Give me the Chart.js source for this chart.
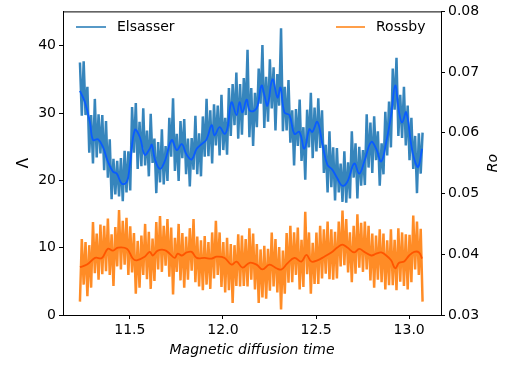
<!DOCTYPE html>
<html>
<head>
<meta charset="utf-8">
<script src="https://cdn.jsdelivr.net/npm/chart.js@4/dist/chart.umd.min.js"></script>
<style>
  body { margin: 0; background: #fff; }
  #wrap { width: 507px; height: 365px; }
</style>
</head>
<body>
<div id="wrap"><canvas id="chart" width="507" height="365"></canvas></div>
<script>
// sampling grid of the raw series (magnetic diffusion time)
const tStart = 11.232
const tStep = 0.01

// raw Elsasser number (left axis)
const elsasserRaw = [37.5,29.6,37.7,29.7,33.9,24.1,29.7,22.5,32.1,23.4,
  29.8,24.0,29.7,21.5,28.8,20.4,26.1,17.2,23.2,17.9,
  22.9,17.6,23.3,16.9,24.4,18.2,24.3,18.5,30.9,24.1,
  31.5,21.7,28.7,22.1,30.7,22.2,27.4,20.6,29.9,22.6,
  26.2,18.1,25.7,19.7,27.6,19.4,25.1,19.9,29.3,23.5,
  32.2,21.4,26.9,19.9,28.8,23.3,29.1,20.9,26.2,19.1,
  26.3,21.6,29.6,20.9,27.0,20.6,29.5,23.5,32.1,23.6,
  30.4,22.5,31.3,25.2,31.1,23.7,32.7,24.5,29.3,23.8,
  33.7,26.6,34.3,28.2,36.0,26.2,34.3,26.8,35.2,29.7,
  39.4,26.4,33.7,25.1,33.0,27.9,36.6,31.4,40.1,27.8,
  35.4,28.7,38.0,30.7,36.8,27.4,35.8,31.1,42.6,27.3,
  33.9,27.4,34.9,25.6,30.4,22.2,30.6,25.1,32.0,22.9,
  27.9,20.1,30.5,24.9,33.0,23.3,30.8,24.3,32.2,24.8,
  30.4,21.1,25.3,18.2,27.3,19.0,24.9,17.0,24.8,18.2,
  22.5,16.8,24.3,16.7,22.7,17.3,27.3,20.4,25.5,17.3,
  25.0,19.2,24.5,19.3,29.8,21.9,28.6,21.1,29.5,23.0,
  27.3,19.2,25.5,20.9,30.2,23.7,31.7,24.9,36.6,30.5,
  38.2,26.6,32.7,26.3,33.9,25.2,31.1,23.0,29.3,21.7,
  26.6,18.1,27.0,21.0,27.1]

// raw Rossby number (right axis)
const rossbyRaw = [0.0322,0.0425,0.0350,0.0420,0.0331,0.0415,0.0345,0.0453,0.0369,0.0434,
  0.0358,0.0449,0.0367,0.0447,0.0372,0.0459,0.0366,0.0433,0.0348,0.0445,
  0.0380,0.0473,0.0375,0.0455,0.0383,0.0460,0.0366,0.0446,0.0370,0.0435,
  0.0335,0.0422,0.0345,0.0431,0.0366,0.0450,0.0359,0.0437,0.0343,0.0426,
  0.0356,0.0453,0.0375,0.0463,0.0371,0.0447,0.0381,0.0458,0.0363,0.0444,
  0.0334,0.0427,0.0371,0.0450,0.0357,0.0435,0.0345,0.0429,0.0358,0.0443,
  0.0373,0.0458,0.0354,0.0429,0.0347,0.0423,0.0341,0.0430,0.0350,0.0420,
  0.0343,0.0436,0.0360,0.0455,0.0366,0.0436,0.0346,0.0420,0.0337,0.0427,
  0.0341,0.0417,0.0320,0.0415,0.0348,0.0433,0.0347,0.0431,0.0348,0.0425,
  0.0347,0.0443,0.0358,0.0434,0.0342,0.0417,0.0320,0.0408,0.0329,0.0414,
  0.0327,0.0409,0.0340,0.0436,0.0347,0.0425,0.0337,0.0412,0.0309,0.0406,
  0.0335,0.0435,0.0353,0.0447,0.0354,0.0436,0.0366,0.0444,0.0342,0.0424,
  0.0346,0.0470,0.0367,0.0436,0.0335,0.0419,0.0351,0.0436,0.0351,0.0447,
  0.0360,0.0441,0.0368,0.0454,0.0359,0.0441,0.0358,0.0437,0.0360,0.0454,
  0.0380,0.0472,0.0382,0.0458,0.0370,0.0436,0.0354,0.0447,0.0368,0.0466,
  0.0378,0.0452,0.0371,0.0454,0.0375,0.0447,0.0357,0.0434,0.0345,0.0431,
  0.0358,0.0441,0.0354,0.0434,0.0342,0.0423,0.0349,0.0441,0.0349,0.0424,
  0.0341,0.0443,0.0355,0.0436,0.0348,0.0433,0.0342,0.0432,0.0354,0.0464,
  0.0375,0.0454,0.0366,0.0442,0.0322]

// running means
const elsSmoothT = [11.232,11.259,11.286,11.302,11.329,11.355,11.382,11.409,11.430,11.457,
  11.484,11.500,11.527,11.554,11.580,11.607,11.618,11.634,11.661,11.687,
  11.725,11.752,11.779,11.805,11.832,11.859,11.886,11.912,11.939,11.955,
  11.982,12.009,12.025,12.046,12.073,12.089,12.105,12.127,12.143,12.170,
  12.186,12.207,12.223,12.239,12.266,12.293,12.309,12.330,12.357,12.384,
  12.411,12.437,12.464,12.480,12.507,12.534,12.561,12.587,12.614,12.641,
  12.668,12.705,12.732,12.759,12.796,12.823,12.850,12.877,12.903,12.925,
  12.946,12.962,12.984,13.011,13.027,13.048,13.069]
const elsSmooth = [33.3,31.6,28.6,26.0,26.1,25.0,22.8,21.3,21.0,19.5,
  19.8,22.3,27.5,26.4,23.8,24.7,25.3,23.2,21.7,22.8,
  26.0,24.5,25.4,23.8,23.1,24.7,25.4,26.1,28.2,26.7,
  27.9,26.9,27.9,31.6,29.7,31.6,30.1,32.0,30.4,30.4,
  31.1,34.1,32.6,31.1,35.0,32.3,33.8,30.1,29.7,26.9,
  27.2,24.7,27.6,27.2,28.7,25.4,22.3,21.6,20.3,19.2,
  19.8,22.5,21.0,22.8,25.7,24.7,22.8,25.7,29.7,34.1,
  30.1,28.6,30.1,25.3,23.2,22.0,24.7]

const rosSmoothT = [11.232,11.270,11.313,11.350,11.382,11.409,11.436,11.484,11.516,11.537,
  11.580,11.607,11.623,11.650,11.687,11.714,11.741,11.757,11.779,11.805,
  11.832,11.859,11.902,11.939,11.966,12.009,12.046,12.073,12.105,12.143,
  12.180,12.212,12.250,12.287,12.314,12.346,12.384,12.421,12.448,12.475,
  12.507,12.544,12.582,12.614,12.641,12.668,12.705,12.732,12.759,12.796,
  12.823,12.850,12.877,12.903,12.925,12.946,12.973,13.000,13.027,13.053,
  13.069]
const rosSmooth = [0.0379,0.0383,0.0394,0.0394,0.0409,0.0406,0.0411,0.0409,0.0393,0.0390,
  0.0396,0.0404,0.0398,0.0406,0.0407,0.0401,0.0394,0.0401,0.0398,0.0403,
  0.0404,0.0394,0.0394,0.0393,0.0396,0.0394,0.0383,0.0388,0.0378,0.0386,
  0.0383,0.0375,0.0383,0.0377,0.0375,0.0385,0.0394,0.0388,0.0399,0.0388,
  0.0390,0.0396,0.0403,0.0411,0.0416,0.0411,0.0403,0.0409,0.0404,0.0398,
  0.0401,0.0403,0.0398,0.0390,0.0377,0.0386,0.0388,0.0398,0.0404,0.0403,
  0.0393]

const xTicks = [11.5, 12.0, 12.5, 13.0]
const lambdaTicks = [0, 10, 20, 30, 40]
const roTicks = [0.03, 0.04, 0.05, 0.06, 0.07, 0.08]

function pairs(ts, vs) {
    let out = []
    for (let i = 0; i < vs.length; i++) {
        out.push({ x: ts[i], y: vs[i] })
    }
    return out
}

let rawT = []
for (let i = 0; i < elsasserRaw.length; i++) {
    rawT.push(tStart + i * tStep)
}

const font = "'DejaVu Sans', sans-serif"
Chart.defaults.font.family = font
Chart.defaults.font.size = 14
Chart.defaults.color = '#000'

// matplotlib style frame, Ro label and the two separate legends
const framePlugin = {
    id: 'frame',
    afterDraw(chart) {
        const ctx = chart.ctx
        const a = chart.chartArea
        ctx.save()
        ctx.strokeStyle = '#000'
        ctx.lineWidth = 1
        ctx.beginPath()
        ctx.moveTo(a.left, a.top + 0.5)
        ctx.lineTo(a.right, a.top + 0.5)
        ctx.stroke()

        ctx.font = '14px ' + font
        ctx.textBaseline = 'middle'
        ctx.fillStyle = '#000'
        ctx.lineWidth = 1.5

        ctx.strokeStyle = '#1f77b4'
        ctx.beginPath()
        ctx.moveTo(76, 27)
        ctx.lineTo(106, 27)
        ctx.stroke()
        ctx.fillText('Elsasser', 117, 27)

        ctx.strokeStyle = '#ff7f0e'
        ctx.beginPath()
        ctx.moveTo(336, 27)
        ctx.lineTo(365, 27)
        ctx.stroke()
        ctx.fillText('Rossby', 376, 27)

        // right axis title reads bottom to top, like matplotlib
        ctx.translate(493, (a.top + a.bottom) / 2)
        ctx.rotate(-Math.PI / 2)
        ctx.textAlign = 'center'
        ctx.font = 'italic 14px ' + font
        ctx.fillText('Ro', 0, 0)
        ctx.restore()
    }
}

const ctx = document.getElementById('chart').getContext('2d')
new Chart(ctx, {
    type: 'line',
    data: {
        datasets: [{
            label: 'Elsasser mean',
            data: pairs(elsSmoothT, elsSmooth),
            yAxisID: 'y',
            borderColor: '#0a5cff',
            borderWidth: 1.8,
            tension: 0.4
        }, {
            label: 'Rossby mean',
            data: pairs(rosSmoothT, rosSmooth),
            yAxisID: 'y2',
            borderColor: '#ff5500',
            borderWidth: 1.8,
            tension: 0.4
        }, {
            label: 'Elsasser',
            data: pairs(rawT, elsasserRaw),
            yAxisID: 'y',
            borderColor: 'rgb(54,133,188)',
            borderWidth: 2.5,
            borderJoinStyle: 'bevel'
        }, {
            label: 'Rossby',
            data: pairs(rawT, rossbyRaw),
            yAxisID: 'y2',
            borderColor: 'rgb(255,140,38)',
            borderWidth: 2.5,
            borderJoinStyle: 'bevel'
        }]
    },
    options: {
        responsive: false,
        animation: false,
        events: [],
        elements: { point: { radius: 0 } },
        layout: { padding: { top: 8, left: 0, right: 0, bottom: 0 } },
        plugins: { legend: { display: false }, tooltip: { enabled: false } },
        scales: {
            x: {
                type: 'linear',
                min: 11.141,
                max: 13.171,
                afterFit: function (s) { s.height = 50 },
                afterBuildTicks: function (s) { s.ticks = xTicks.map(v => ({ value: v })) },
                ticks: { callback: v => v.toFixed(1), padding: 3, maxRotation: 0, autoSkip: false },
                grid: { drawOnChartArea: false, tickLength: 4, color: '#000' },
                border: { color: '#000' },
                title: { display: true, text: 'Magnetic diffusion time', font: { size: 14, style: 'italic' }, padding: { top: 4, bottom: 6 } }
            },
            y: {
                position: 'left',
                min: 0,
                max: 45.1,
                afterFit: function (s) { s.width = 63 },
                afterBuildTicks: function (s) { s.ticks = lambdaTicks.map(v => ({ value: v })) },
                ticks: { padding: 3, autoSkip: false },
                grid: { drawOnChartArea: false, tickLength: 4, color: '#000' },
                border: { color: '#000' },
                title: { display: true, text: 'Λ', font: { size: 15 }, padding: { top: 15, bottom: 0 } }
            },
            y2: {
                position: 'right',
                min: 0.03,
                max: 0.08,
                afterFit: function (s) { s.width = 66 },
                afterBuildTicks: function (s) { s.ticks = roTicks.map(v => ({ value: v })) },
                ticks: { callback: v => v.toFixed(2), padding: 3, autoSkip: false },
                grid: { drawOnChartArea: false, tickLength: 4, color: '#000' },
                border: { color: '#000' }
            }
        }
    },
    plugins: [framePlugin]
})
</script>
</body>
</html>
